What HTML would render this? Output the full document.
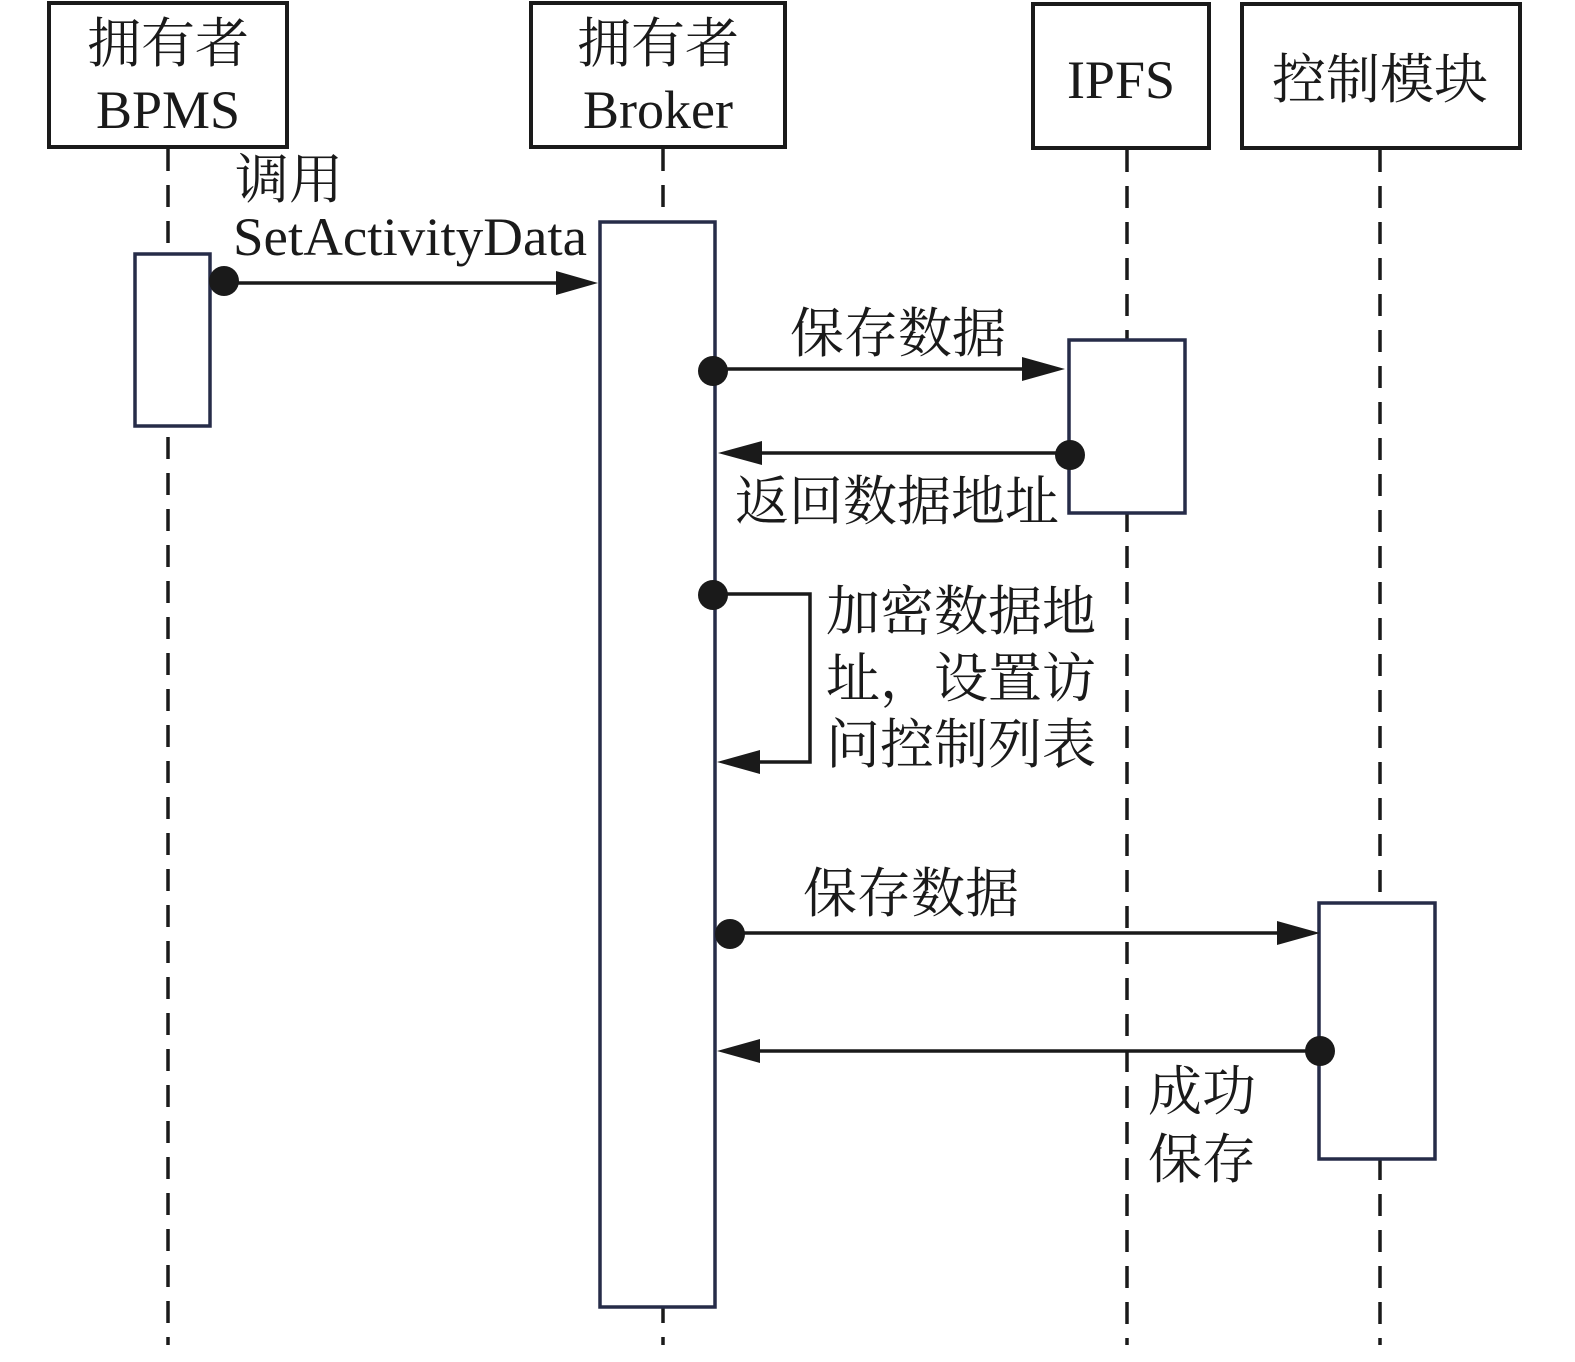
<!DOCTYPE html>
<html><head><meta charset="utf-8"><style>
html,body{margin:0;padding:0;background:#fff;}
text{font-family:"Liberation Serif","Noto Serif CJK SC",serif;font-size:54px;fill:#1a1a1a;}
</style></head><body>
<svg width="1575" height="1357" viewBox="0 0 1575 1357" xmlns="http://www.w3.org/2000/svg">
<g stroke="#1a1a1a" stroke-width="3.5" stroke-dasharray="22 14" fill="none">
<line x1="168" y1="149" x2="168" y2="1345"/>
<line x1="663" y1="149" x2="663" y2="1345"/>
<line x1="1127" y1="150" x2="1127" y2="1345"/>
<line x1="1380" y1="150" x2="1380" y2="1345"/>
</g>
<g stroke="#1a1a1a" stroke-width="4" fill="#fff">
<rect x="49" y="3" width="238" height="144"/>
<rect x="531" y="3" width="254" height="144"/>
<rect x="1033" y="4" width="176" height="144"/>
<rect x="1242" y="4" width="278" height="144"/>
</g>
<g stroke="#262c48" stroke-width="3.5" fill="#fff">
<rect x="135" y="254" width="75" height="172"/>
<rect x="600" y="222" width="115" height="1085"/>
<rect x="1069" y="340" width="116" height="173"/>
<rect x="1319" y="903" width="116" height="256"/>
</g>
<g text-anchor="middle">
<text x="168" y="62">拥有者</text>
<text x="168" y="128">BPMS</text>
<text x="658" y="62">拥有者</text>
<text x="658" y="128">Broker</text>
<text x="1121" y="98">IPFS</text>
<text x="1380" y="98">控制模块</text>
</g>
<g stroke="#1a1a1a" stroke-width="3.5" fill="none">
<line x1="224" y1="283" x2="560" y2="283"/>
<line x1="713" y1="369" x2="1025" y2="369"/>
<line x1="1070" y1="453" x2="758" y2="453"/>
<polyline points="713,594 810,594 810,762 757,762"/>
<line x1="730" y1="933" x2="1280" y2="933"/>
<line x1="1320" y1="1051" x2="758" y2="1051"/>
</g>
<g fill="#1a1a1a">
<circle cx="224" cy="281" r="15"/>
<polygon points="598,283 556,271 556,295"/>
<circle cx="713" cy="371" r="15"/>
<polygon points="1065,369 1022,357 1022,381"/>
<circle cx="1070" cy="455" r="15"/>
<polygon points="718,453 762,441 762,465"/>
<circle cx="713" cy="595" r="15"/>
<polygon points="717,762 760,750 760,774"/>
<circle cx="730" cy="934" r="15"/>
<polygon points="1320,933 1277,921 1277,945"/>
<circle cx="1320" cy="1051" r="15"/>
<polygon points="717,1051 760,1039 760,1063"/>
</g>
<text x="235" y="198">调用</text>
<text x="233" y="255" textLength="354" lengthAdjust="spacingAndGlyphs">SetActivityData</text>
<text x="790" y="352">保存数据</text>
<text x="735" y="520">返回数据地址</text>
<text x="826" y="630">加密数据地</text>
<text x="826" y="697">址，设置访</text>
<text x="826" y="763">问控制列表</text>
<text x="803" y="912">保存数据</text>
<text x="1148" y="1110">成功</text>
<text x="1148" y="1178">保存</text>
</svg>
</body></html>
